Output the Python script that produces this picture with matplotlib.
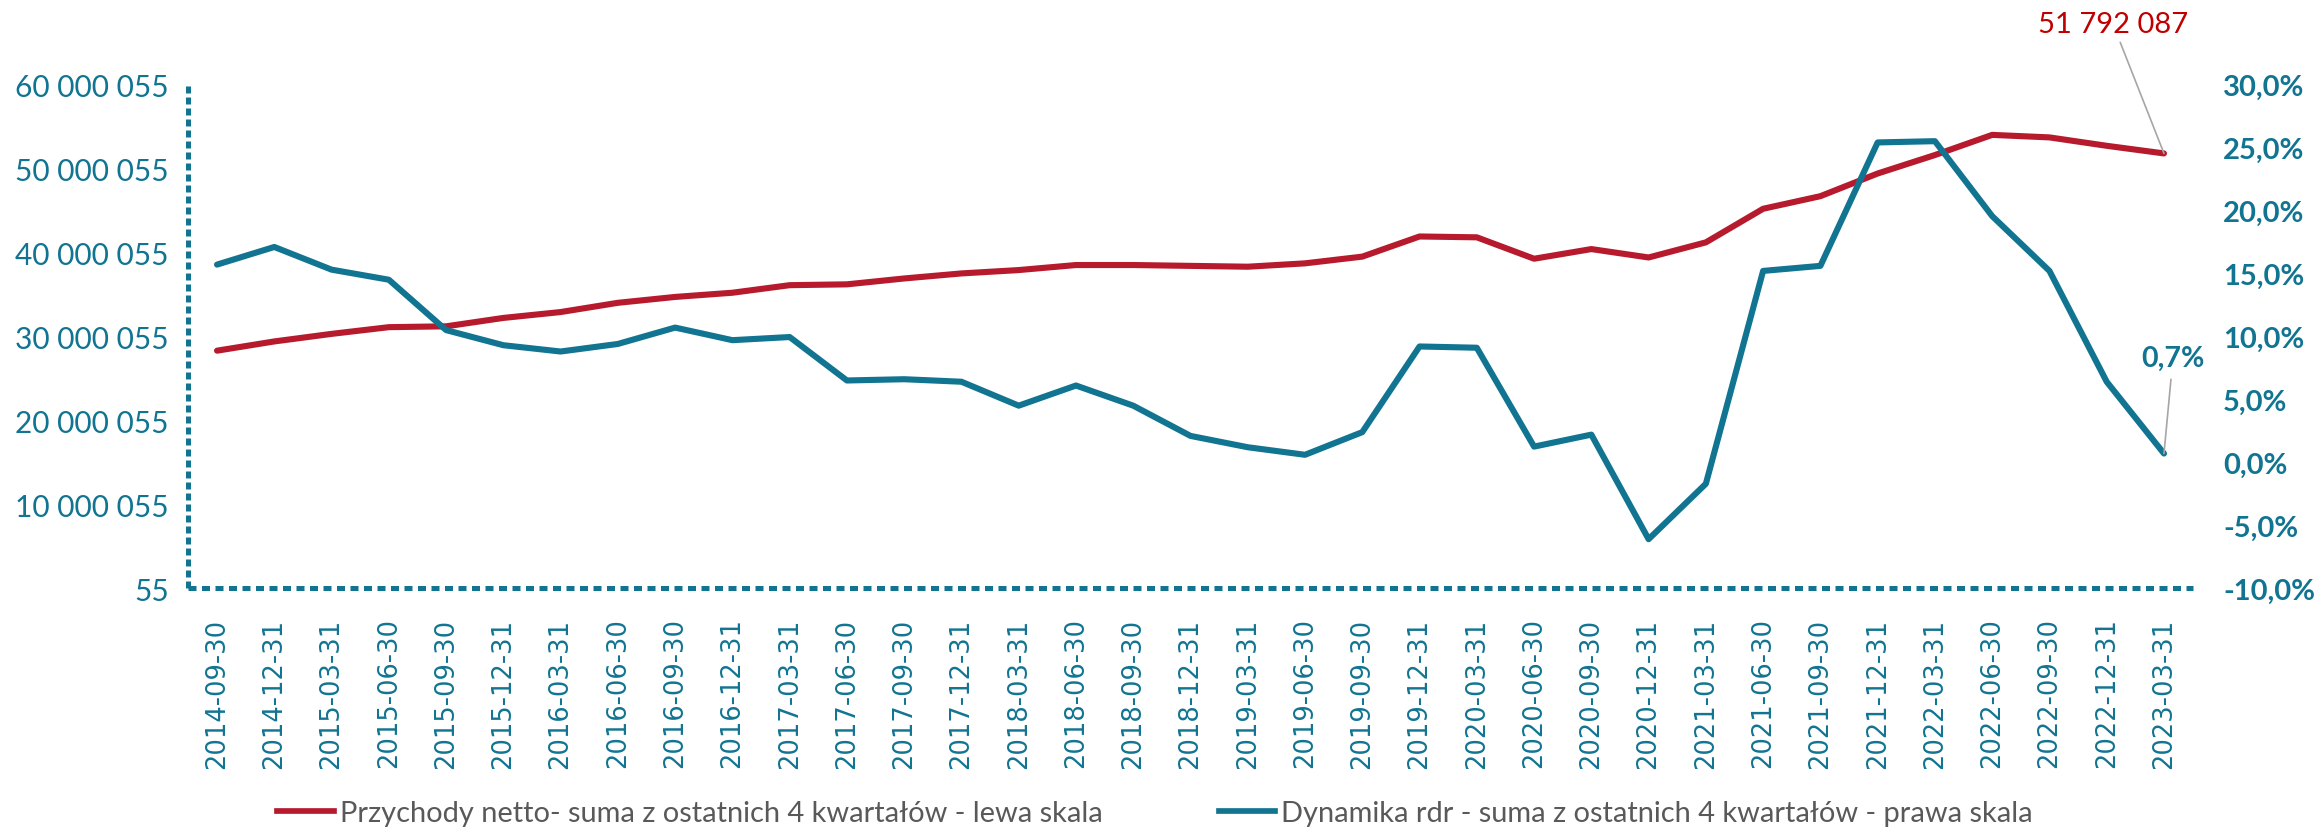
import matplotlib
matplotlib.use("Agg")
import matplotlib.pyplot as plt
from matplotlib.lines import Line2D
from matplotlib.ticker import FixedLocator, FuncFormatter

# --- data -------------------------------------------------------------------
quarters = [
    "2014-09-30", "2014-12-31", "2015-03-31", "2015-06-30", "2015-09-30",
    "2015-12-31", "2016-03-31", "2016-06-30", "2016-09-30", "2016-12-31",
    "2017-03-31", "2017-06-30", "2017-09-30", "2017-12-31", "2018-03-31",
    "2018-06-30", "2018-09-30", "2018-12-31", "2019-03-31", "2019-06-30",
    "2019-09-30", "2019-12-31", "2020-03-31", "2020-06-30", "2020-09-30",
    "2020-12-31", "2021-03-31", "2021-06-30", "2021-09-30", "2021-12-31",
    "2022-03-31", "2022-06-30", "2022-09-30", "2022-12-31", "2023-03-31",
]

# net revenue, sum of the last 4 quarters (left scale)
revenue = [
    28_300_000, 29_400_000, 30_300_000, 31_100_000, 31_200_000,
    32_200_000, 32_900_000, 34_000_000, 34_700_000, 35_200_000,
    36_100_000, 36_200_000, 36_900_000, 37_500_000, 37_900_000,
    38_500_000, 38_500_000, 38_400_000, 38_300_000, 38_700_000,
    39_500_000, 41_900_000, 41_800_000, 39_250_000, 40_400_000,
    39_400_000, 41_200_000, 45_200_000, 46_700_000, 49_400_000,
    51_600_000, 54_000_000, 53_700_000, 52_700_000, 51_792_087,
]

# year-on-year growth in % (right scale)
growth = [
    15.7, 17.1, 15.3, 14.5, 10.5,
    9.3, 8.8, 9.4, 10.7, 9.7,
    9.95, 6.5, 6.6, 6.4, 4.5,
    6.1, 4.5, 2.1, 1.2, 0.6,
    2.4, 9.2, 9.1, 1.25, 2.2,
    -6.1, -1.7, 15.2, 15.6, 25.4,
    25.5, 19.55, 15.2, 6.4, 0.7,
]

left_ticks = [55, 10_000_055, 20_000_055, 30_000_055, 40_000_055, 50_000_055, 60_000_055]
right_ticks = [-10, -5, 0, 5, 10, 15, 20, 25, 30]

legend_labels = [
    "Przychody netto- suma z ostatnich 4 kwartałów - lewa skala",
    "Dynamika rdr - suma z ostatnich 4 kwartałów - prawa skala",
]

# --- style ------------------------------------------------------------------
RED = "#B71A2C"
RED_TXT = "#C00000"
TEAL = "#117491"
GREY = "#595959"
LEADER = "#A6A6A6"
FONT = "Lato"

W, H = 2315, 829
fig = plt.figure(figsize=(W / 100, H / 100), dpi=100)
fig.patch.set_facecolor("white")

x0, x1 = 188.4, 2192.6
y_top, y_bot = 85.5, 589.3
ax = fig.add_axes([x0 / W, (H - y_bot) / H, (x1 - x0) / W, (y_bot - y_top) / H])
ax2 = ax.twinx()

x = list(range(len(quarters)))
ax.plot(x, revenue, color=RED, lw=4.4, solid_capstyle="round",
        solid_joinstyle="round", zorder=3)
ax2.plot(x, growth, color=TEAL, lw=4.4, solid_capstyle="round",
         solid_joinstyle="round", zorder=3)

ax.set_xlim(-0.5, len(quarters) - 0.5)
ax.set_ylim(left_ticks[0], left_ticks[-1])
ax2.set_ylim(right_ticks[0], right_ticks[-1])

# left axis
ax.yaxis.set_major_locator(FixedLocator(left_ticks))
ax.yaxis.set_major_formatter(FuncFormatter(lambda v, p: f"{v:,.0f}".replace(",", " ")))
ax.tick_params(axis="y", length=0, pad=14, labelcolor=TEAL, labelsize=21.5)
for lab in ax.get_yticklabels():
    lab.set_fontfamily(FONT)

# right axis
ax2.yaxis.set_major_locator(FixedLocator(right_ticks))
ax2.yaxis.set_major_formatter(FuncFormatter(lambda v, p: f"{v:.1f}%".replace(".", ",")))
ax2.tick_params(axis="y", length=0, pad=22, labelcolor=TEAL, labelsize=21)
for lab in ax2.get_yticklabels():
    lab.set_fontfamily(FONT)
    lab.set_fontweight("bold")

# category axis
ax.set_xticks(x)
ax.set_xticklabels(quarters, rotation=90, fontsize=18.5, color=TEAL,
                   fontfamily="DejaVu Sans")
ax.tick_params(axis="x", length=0, pad=21)

# dotted axis lines
for a in (ax, ax2):
    for s in ("top", "right"):
        a.spines[s].set_visible(False)
ax2.spines["left"].set_visible(False)
ax2.spines["bottom"].set_visible(False)
ax.spines["left"].set_color(TEAL)
ax.spines["left"].set_linewidth(3.6)
ax.spines["left"].set_linestyle((0, (1.4, 0.8)))
ax.spines["left"].set_capstyle("butt")
ax.spines["bottom"].set_color(TEAL)
ax.spines["bottom"].set_linewidth(3.6)
ax.spines["bottom"].set_linestyle((0, (1.6, 1.1)))
ax.spines["bottom"].set_capstyle("butt")
ax.patch.set_visible(False)

# value labels on the last points
last = len(quarters) - 1
ax.annotate(f"{revenue[-1]:,.0f}".replace(",", " "),
            xy=(last, revenue[-1]), xycoords="data",
            xytext=(2113, H - 25), textcoords="figure pixels",
            ha="center", va="center", fontsize=21, color=RED_TXT,
            fontfamily=FONT,
            arrowprops=dict(arrowstyle="-", color=LEADER, lw=1.2,
                            shrinkA=2, shrinkB=0))
ax2.annotate(f"{growth[-1]:.1f}%".replace(".", ","),
             xy=(last, growth[-1]), xycoords="data",
             xytext=(2173, H - 359), textcoords="figure pixels",
             ha="center", va="center", fontsize=20.5, color=TEAL,
             fontfamily=FONT, fontweight="bold",
             arrowprops=dict(arrowstyle="-", color=LEADER, lw=1.2,
                             shrinkA=4, shrinkB=0))

# legend
handles = [Line2D([], [], color=RED, lw=4.1), Line2D([], [], color=TEAL, lw=4.1)]
leg = fig.legend(handles, legend_labels, loc="center",
                 bbox_to_anchor=(1155 / W, 14.5 / H), ncol=2, frameon=False,
                 handlelength=1.95, handletextpad=0.2, columnspacing=4.0,
                 borderpad=0, borderaxespad=0,
                 prop={"family": FONT, "size": 20.9})
for t in leg.get_texts():
    t.set_color(GREY)

fig.savefig("out.png", dpi=100, facecolor="white")
